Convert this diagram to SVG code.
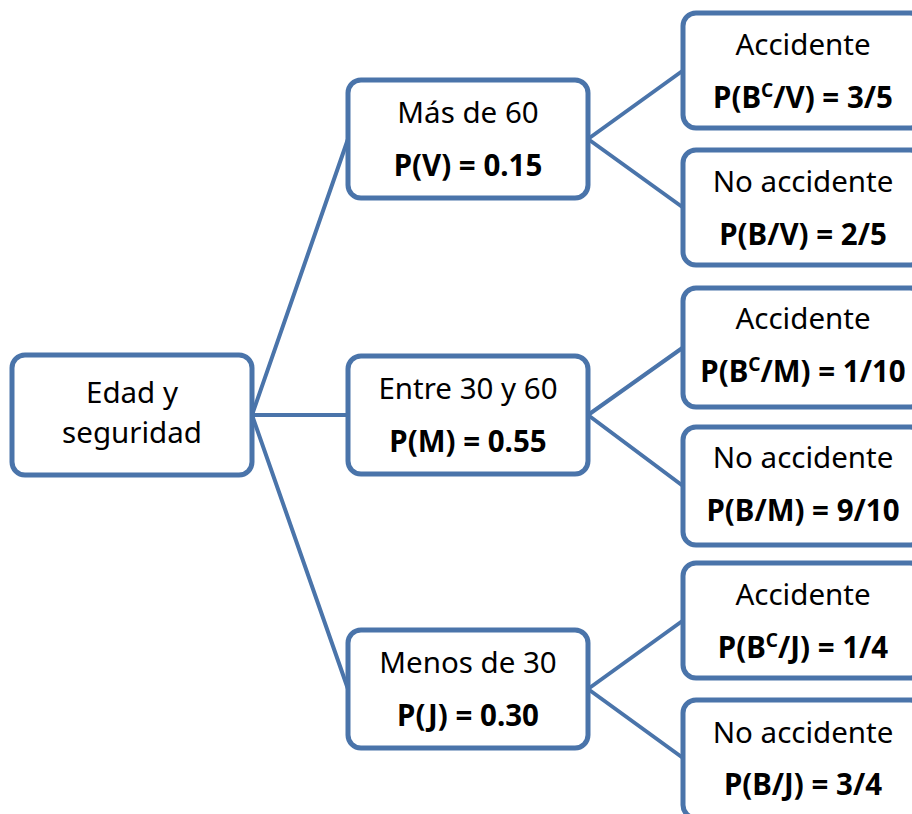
<svg xmlns="http://www.w3.org/2000/svg" width="912" height="814" viewBox="0 0 912 814">
<style>
.box{fill:#fff;stroke:#4A74AA;stroke-width:5}
.con line{stroke:#4A74AA;stroke-width:4;stroke-linecap:round}
text{font-family:"Noto Sans","Open Sans",sans-serif;font-size:29.5px;fill:#000;text-anchor:middle}
.b{font-weight:bold}
.sup{font-size:19px}
</style>
<rect width="912" height="814" fill="#fff"/>
<g id="connectors" class="con">
<line x1="252" y1="415" x2="348" y2="139"/>
<line x1="252" y1="415" x2="348" y2="415"/>
<line x1="252" y1="415" x2="348" y2="689"/>
<line x1="588" y1="139" x2="683" y2="70.5"/>
<line x1="588" y1="139" x2="683" y2="207.5"/>
<line x1="588" y1="415" x2="683" y2="347.5"/>
<line x1="588" y1="415" x2="683" y2="486"/>
<line x1="588" y1="689" x2="683" y2="620.5"/>
<line x1="588" y1="689" x2="683" y2="758"/>
</g>
<g id="root">
<rect class="box" x="12" y="355" width="240" height="120" rx="13"/>
<text x="132" y="403">Edad y</text>
<text x="132" y="443">seguridad</text>
</g>
<g id="mas60">
<rect class="box" x="348" y="80" width="240" height="118" rx="13"/>
<text x="468" y="123">Más de 60</text>
<text class="b" x="468" y="176">P(V) = 0.15</text>
</g>
<g id="entre30y60">
<rect class="box" x="348" y="356" width="240" height="118" rx="13"/>
<text x="468" y="399">Entre 30 y 60</text>
<text class="b" x="468" y="452">P(M) = 0.55</text>
</g>
<g id="menos30">
<rect class="box" x="348" y="630" width="240" height="118" rx="13"/>
<text x="468" y="673">Menos de 30</text>
<text class="b" x="468" y="726">P(J) = 0.30</text>
</g>
<g id="V-accidente">
<rect class="box" x="683" y="13" width="240" height="115" rx="13"/>
<text x="803" y="55">Accidente</text>
<text class="b" x="803" y="108">P(B<tspan class="sup" dy="-11">C</tspan><tspan dy="11">/V) = 3/5</tspan></text>
</g>
<g id="V-noaccidente">
<rect class="box" x="683" y="150" width="240" height="115" rx="13"/>
<text x="803" y="192">No accidente</text>
<text class="b" x="803" y="245">P(B/V) = 2/5</text>
</g>
<g id="M-accidente">
<rect class="box" x="683" y="288" width="240" height="119" rx="13"/>
<text x="803" y="329">Accidente</text>
<text class="b" x="803" y="382">P(B<tspan class="sup" dy="-11">C</tspan><tspan dy="11">/M) = 1/10</tspan></text>
</g>
<g id="M-noaccidente">
<rect class="box" x="683" y="427" width="240" height="118" rx="13"/>
<text x="803" y="468">No accidente</text>
<text class="b" x="803" y="521">P(B/M) = 9/10</text>
</g>
<g id="J-accidente">
<rect class="box" x="683" y="563" width="240" height="115" rx="13"/>
<text x="803" y="605">Accidente</text>
<text class="b" x="803" y="658">P(B<tspan class="sup" dy="-11">C</tspan><tspan dy="11">/J) = 1/4</tspan></text>
</g>
<g id="J-noaccidente">
<rect class="box" x="683" y="700" width="240" height="118" rx="13"/>
<text x="803" y="743">No accidente</text>
<text class="b" x="803" y="795">P(B/J) = 3/4</text>
</g>
</svg>
